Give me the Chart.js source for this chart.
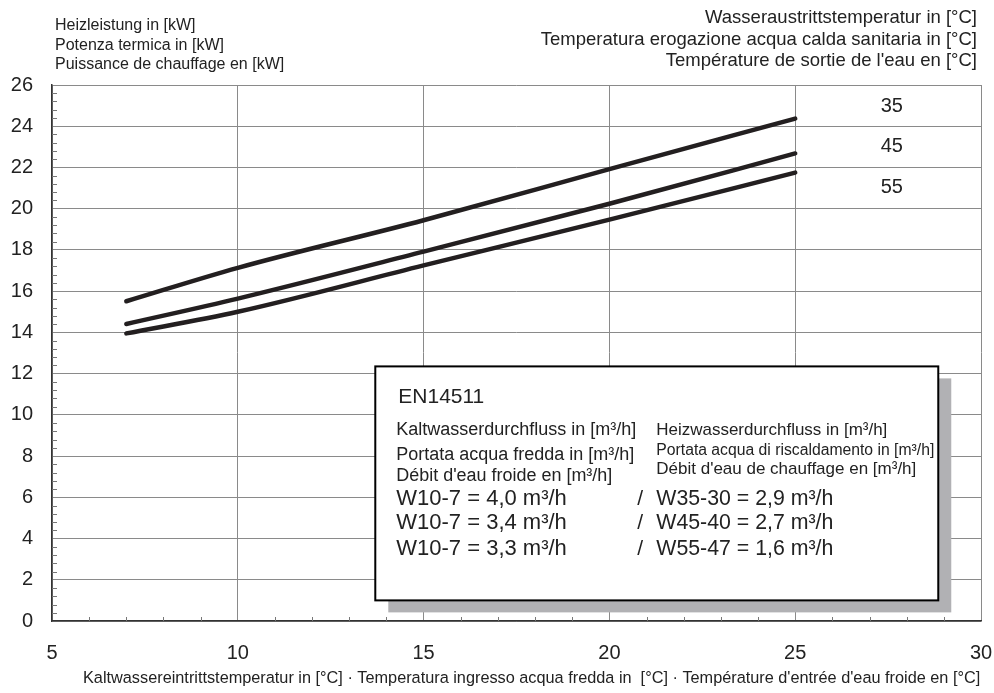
<!DOCTYPE html>
<html>
<head>
<meta charset="utf-8">
<script src="https://cdn.jsdelivr.net/npm/chart.js@4"></script>
<style>
  html, body { margin: 0; padding: 0; background: #fff; }
</style>
</head>
<body>
<canvas id="chart" width="994" height="693"></canvas>
<script>
// inlet cold water temperature (x) and heating power (y) per outlet temperature
const tempX = [7, 10, 15, 20, 25];
const power35 = [15.51, 17.13, 19.44, 21.92, 24.37];
const power45 = [14.41, 15.64, 17.92, 20.24, 22.68];
const power55 = [13.95, 15.0, 17.25, 19.47, 21.75];

const curveNames = ["35", "45", "55"];
const curveLabelX = 27.6;
const curveLabelY = [24.95, 23.0, 21.05];

const yTitle = [
  "Heizleistung in [kW]",
  "Potenza termica in [kW]",
  "Puissance de chauffage en [kW]",
];
const outletTitle = [
  "Wasseraustrittstemperatur in [°C]",
  "Temperatura erogazione acqua calda sanitaria in [°C]",
  "Température de sortie de l'eau en [°C]",
];
const xTitle =
  "Kaltwassereintrittstemperatur in [°C] · Temperatura ingresso acqua fredda in  [°C] · Température d'entrée d'eau froide en [°C]";

const boxTitle = "EN14511";
const coldFlowHead = [
  "Kaltwasserdurchfluss in [m³/h]",
  "Portata acqua fredda in [m³/h]",
  "Débit d'eau froide en [m³/h]",
];
const hotFlowHead = [
  "Heizwasserdurchfluss in [m³/h]",
  "Portata acqua di riscaldamento in [m³/h]",
  "Débit d'eau de chauffage en [m³/h]",
];
const coldFlow = ["W10-7 = 4,0 m³/h", "W10-7 = 3,4 m³/h", "W10-7 = 3,3 m³/h"];
const hotFlow = ["W35-30 = 2,9 m³/h", "W45-40 = 2,7 m³/h", "W55-47 = 1,6 m³/h"];

// box corners in data units
const boxX = [13.7, 28.85];
const boxY = [12.35, 1.0];

const FONT = '"Liberation Sans", Arial, sans-serif';
const INK = "#231f20";
const TEXT = "#222";

const pts = (ys) => tempX.map((x, i) => ({ x, y: ys[i] }));

function txt(ctx, s, x, y, size, align, maxW) {
  ctx.font = `${size}px ${FONT}`;
  ctx.textAlign = align || "left";
  ctx.textBaseline = "middle";
  if (maxW) ctx.fillText(s, x, y, maxW);
  else ctx.fillText(s, x, y);
}

const decor = {
  id: "decor",
  beforeDatasetsDraw(chart) {
    const { ctx, scales } = chart;
    const xs = scales.x, ys = scales.y;
    ctx.save();

    // minor ticks
    ctx.strokeStyle = "#777";
    ctx.lineWidth = 1;
    ctx.beginPath();
    for (let v = 6; v < 30; v++) {
      if (v % 5 === 0) continue;
      const px = Math.round(xs.getPixelForValue(v)) + 0.5;
      ctx.moveTo(px, ys.bottom);
      ctx.lineTo(px, ys.bottom - 4);
    }
    for (let k = 1; k < 65; k++) {
      if (k % 5 === 0) continue;
      const py = Math.round(ys.getPixelForValue(k * 0.4)) + 0.5;
      ctx.moveTo(xs.left, py);
      ctx.lineTo(xs.left + 5, py);
    }
    ctx.stroke();

    // EN14511 box
    const l = xs.getPixelForValue(boxX[0]);
    const r = xs.getPixelForValue(boxX[1]);
    const t = ys.getPixelForValue(boxY[0]);
    const b = ys.getPixelForValue(boxY[1]);
    ctx.fillStyle = "#b1b1b4";
    ctx.fillRect(l + 13, t + 12, r - l, b - t);
    ctx.fillStyle = "#fff";
    ctx.fillRect(l, t, r - l, b - t);
    ctx.strokeStyle = "#000";
    ctx.lineWidth = 2;
    ctx.strokeRect(l, t, r - l, b - t);

    ctx.fillStyle = TEXT;
    txt(ctx, boxTitle, l + 23, t + 31, 21, "left", 89);
    const c1 = l + 21, c2 = l + 281;
    txt(ctx, coldFlowHead[0], c1, t + 64, 18, "left", 241);
    txt(ctx, coldFlowHead[1], c1, t + 89, 18, "left", 238);
    txt(ctx, coldFlowHead[2], c1, t + 110, 18, "left", 216);
    txt(ctx, hotFlowHead[0], c2, t + 64, 17, "left", 231);
    txt(ctx, hotFlowHead[1], c2, t + 84, 16, "left", 278);
    txt(ctx, hotFlowHead[2], c2, t + 103, 17, "left", 261);
    const rowY = [133, 157, 183];
    for (let i = 0; i < 3; i++) {
      txt(ctx, coldFlow[i], c1, t + rowY[i], 22, "left", 173);
      txt(ctx, "/", l + 265, t + rowY[i], 21, "center");
      txt(ctx, hotFlow[i], c2, t + rowY[i], 22, "left", 177);
    }
    ctx.restore();
  },
  afterDraw(chart) {
    const { ctx, scales } = chart;
    const xs = scales.x, ys = scales.y;
    ctx.save();
    ctx.fillStyle = TEXT;
    // curve names
    for (let i = 0; i < curveNames.length; i++) {
      txt(ctx, curveNames[i], xs.getPixelForValue(curveLabelX),
        ys.getPixelForValue(curveLabelY[i]), 20, "center");
    }
    // axis titles
    const yRows = [26, 46, 65];
    yTitle.forEach((s, i) => txt(ctx, s, 55, yRows[i], 16, "left"));
    const oRows = [18, 40, 61];
    outletTitle.forEach((s, i) => txt(ctx, s, 977, oRows[i], 18.5, "right"));
    txt(ctx, xTitle, 83, 679, 16.3, "left", 898);
    ctx.restore();
  },
};

const line = (data) => ({
  data,
  borderColor: INK,
  borderWidth: 4.5,
  borderCapStyle: "round",
  pointRadius: 0,
  cubicInterpolationMode: "monotone",
  fill: false,
});

new Chart(document.getElementById("chart").getContext("2d"), {
  type: "line",
  data: {
    datasets: [line(pts(power35)), line(pts(power45)), line(pts(power55))],
  },
  options: {
    responsive: false,
    animation: false,
    layout: { padding: { top: 85, right: 13, left: 0, bottom: 0 } },
    plugins: { legend: { display: false }, tooltip: { enabled: false } },
    scales: {
      x: {
        type: "linear",
        min: 5,
        max: 30,
        afterFit: (s) => {
          s.height = 72;
          s.paddingLeft = 0;
          s.paddingRight = 0;
        },
        ticks: {
          stepSize: 5,
          padding: 20,
          color: TEXT,
          font: { family: FONT, size: 20 },
        },
        grid: { color: "#8a8a8a", lineWidth: 1, drawTicks: false },
        border: { color: "#333", width: 1.5 },
      },
      y: {
        min: 0,
        max: 26,
        afterFit: (s) => {
          s.width = 52;
          s.paddingTop = 0;
          s.paddingBottom = 0;
        },
        ticks: {
          stepSize: 2,
          padding: 19,
          color: TEXT,
          font: { family: FONT, size: 20 },
        },
        grid: { color: "#8a8a8a", lineWidth: 1, drawTicks: false },
        border: { color: "#333", width: 1.5 },
      },
    },
  },
  plugins: [decor],
});
</script>
</body>
</html>
